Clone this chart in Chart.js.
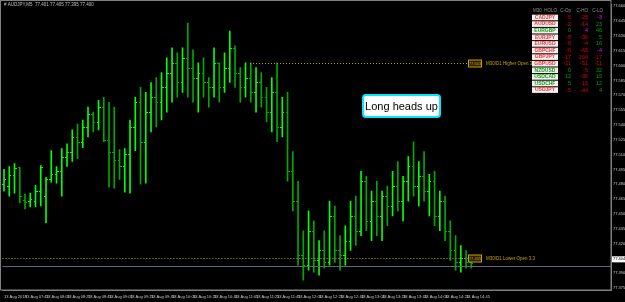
<!DOCTYPE html>
<html>
<head>
<meta charset="utf-8">
<script src="https://cdn.jsdelivr.net/npm/chart.js@4.4.1/dist/chart.umd.min.js"></script>
<style>
  html, body { margin: 0; padding: 0; background: #000; }
  #wrap { width: 625px; height: 302px; }
</style>
</head>
<body>
<div id="wrap"><canvas id="c"></canvas></div>
<script>
// M5 bars, 13 Aug 2018
const highs = [77.495,77.498,77.501,77.497,77.470,77.471,77.479,77.499,77.487,77.514,
  77.498,77.516,77.521,77.535,77.541,77.545,77.558,77.553,77.565,77.568,
  77.563,77.558,77.515,77.516,77.545,77.568,77.578,77.573,77.583,77.588,
  77.593,77.608,77.618,77.613,77.618,77.643,77.616,77.603,77.608,77.588,
  77.618,77.603,77.613,77.635,77.620,77.598,77.603,77.603,77.598,77.593,
  77.578,77.588,77.603,77.568,77.573,77.513,77.483,77.433,77.453,77.443,
  77.423,77.433,77.463,77.458,77.428,77.438,77.463,77.468,77.493,77.488,
  77.473,77.483,77.473,77.478,77.493,77.503,77.488,77.508,77.523,77.503,
  77.513,77.490,77.493,77.473,77.468,77.443,77.428,77.418,77.413,77.405];
const lows = [77.473,77.468,77.471,77.461,77.455,77.457,77.457,77.458,77.441,77.482,
  77.481,77.468,77.498,77.503,77.506,77.517,77.528,77.533,77.535,77.523,
  77.477,77.476,77.485,77.472,77.471,77.514,77.480,77.481,77.533,77.538,
  77.545,77.553,77.563,77.568,77.573,77.568,77.563,77.553,77.568,77.558,
  77.568,77.563,77.573,77.583,77.578,77.563,77.568,77.563,77.553,77.558,
  77.543,77.533,77.523,77.528,77.483,77.453,77.398,77.383,77.393,77.391,
  77.388,77.395,77.398,77.401,77.393,77.398,77.413,77.418,77.428,77.433,
  77.423,77.428,77.423,77.438,77.448,77.453,77.443,77.463,77.468,77.458,
  77.463,77.448,77.438,77.433,77.423,77.403,77.393,77.391,77.395,77.395];
const opens = [77.480,77.478,77.489,77.497,77.464,77.463,77.463,77.473,77.468,77.485,
  77.490,77.493,77.508,77.513,77.528,77.523,77.538,77.551,77.543,77.558,
  77.525,77.513,77.505,77.498,77.511,77.538,77.563,77.523,77.553,77.568,
  77.563,77.578,77.593,77.603,77.583,77.608,77.598,77.588,77.593,77.583,
  77.578,77.603,77.578,77.598,77.618,77.593,77.578,77.588,77.573,77.583,
  77.568,77.553,77.573,77.538,77.553,77.493,77.463,77.408,77.398,77.433,
  77.403,77.413,77.401,77.448,77.413,77.408,77.423,77.448,77.433,77.483,
  77.443,77.463,77.448,77.468,77.458,77.478,77.463,77.483,77.498,77.478,
  77.488,77.473,77.483,77.448,77.463,77.433,77.413,77.401,77.405,77.401];
const closes = [77.485,77.489,77.496,77.468,77.462,77.465,77.473,77.497,77.485,77.490,
  77.493,77.508,77.513,77.528,77.523,77.538,77.551,77.543,77.558,77.525,
  77.513,77.505,77.498,77.511,77.538,77.563,77.523,77.553,77.568,77.563,
  77.578,77.593,77.603,77.583,77.608,77.598,77.588,77.593,77.583,77.578,
  77.603,77.578,77.598,77.618,77.593,77.578,77.588,77.573,77.583,77.568,
  77.553,77.573,77.538,77.553,77.493,77.463,77.408,77.398,77.433,77.403,
  77.413,77.401,77.448,77.413,77.408,77.423,77.448,77.433,77.483,77.443,
  77.463,77.448,77.468,77.458,77.478,77.463,77.483,77.498,77.478,77.488,
  77.473,77.483,77.448,77.463,77.433,77.413,77.401,77.405,77.401,77.400];

// one time label every 4 bars
const timeLabels = ['13 Aug 2018','13 Aug 07:45','13 Aug 08:05','13 Aug 08:25','13 Aug 08:45',
  '13 Aug 09:05','13 Aug 09:25','13 Aug 09:45','13 Aug 10:05','13 Aug 10:25','13 Aug 10:45',
  '13 Aug 11:05','13 Aug 11:25','13 Aug 11:45','13 Aug 12:05','13 Aug 12:25','13 Aug 12:45',
  '13 Aug 13:05','13 Aug 13:25','13 Aug 13:45','13 Aug 14:05','13 Aug 14:25','13 Aug 14:45'];
const priceTicks = [77.660,77.645,77.630,77.615,77.600,77.585,77.570,77.555,77.540,77.525,
  77.510,77.495,77.480,77.465,77.450,77.435,77.420,77.405,77.390,77.375];

// levels
const higherOpen = 77.603;
const lowerOpen = 77.405;
const bidPrice = 77.404;
const bidLine = 77.397;

// M30 HOLO table
const pairs = ['CADJPY','AUDUSD','EURGBP','EURJPY','EURUSD','GBPCHF','GBPJPY','GBPUSD','NZDUSD','USDCAD','USDCHF','USDJPY'];
const cOp = [-5,-2,0,-8,-8,-6,-17,-11,0,12,5,-5];
const cHo = [-28,-14,4,-36,-4,-65,-104,-51,-5,-36,-15,-44];
const cLo = [-3,23,46,5,16,-4,-17,-11,32,15,12,4];

const UP = '#00ff00', DOWN = '#00a800', GOLD = '#c8a000';

const overlay = {
  id: 'overlay',
  afterDatasetsDraw(chart) {
    const {ctx, chartArea: a, scales: {x, y}} = chart;
    ctx.save();
    // open / close ticks
    ctx.lineWidth = 1;
    opens.forEach((o, i) => {
      const px = Math.round(x.getPixelForValue(i));
      ctx.strokeStyle = closes[i] >= o ? UP : DOWN;
      const yo = Math.round(y.getPixelForValue(o)) + 0.5;
      const yc = Math.round(y.getPixelForValue(closes[i])) + 0.5;
      ctx.beginPath();
      ctx.moveTo(px - 2, yo); ctx.lineTo(px, yo);
      ctx.moveTo(px, yc); ctx.lineTo(px + 2, yc);
      ctx.stroke();
    });

    // bid line
    const yb = Math.round(y.getPixelForValue(bidLine)) + 0.5;
    ctx.strokeStyle = '#5a6878';
    ctx.beginPath(); ctx.moveTo(a.left, yb); ctx.lineTo(a.right, yb); ctx.stroke();

    // dotted open levels
    const levels = [
      {p: higherOpen, from: 250, text: 'M30/D1 Higher Open 3.8'},
      {p: lowerOpen, from: a.left, text: 'M30/D1 Lower Open 3.3'}
    ];
    levels.forEach(l => {
      const ly = Math.round(y.getPixelForValue(l.p)) + 0.5;
      ctx.setLineDash([1, 2]);
      ctx.strokeStyle = GOLD;
      ctx.beginPath(); ctx.moveTo(l.from, ly); ctx.lineTo(468, ly); ctx.stroke();
      ctx.setLineDash([]);
      ctx.fillStyle = '#2a2000';
      ctx.fillRect(468.5, ly - 3.5, 13, 7);
      ctx.strokeRect(468.5, ly - 3.5, 13, 7);
      ctx.fillStyle = GOLD;
      ctx.textBaseline = 'middle';
      ctx.textAlign = 'center';
      ctx.font = '4px Arial';
      ctx.fillText(l.p.toFixed(3), 475, ly);
      ctx.textAlign = 'left';
      ctx.font = '4.5px Arial';
      ctx.fillText(l.text, 486, ly);
    });

    // title
    ctx.fillStyle = '#c0c0c0';
    ctx.font = '4.5px Arial';
    ctx.textAlign = 'left';
    ctx.textBaseline = 'middle';
    ctx.fillText('# AUDJPY,M5  77.401 77.405 77.395 77.400', 4, 5);

    // table
    ctx.fillStyle = '#909090';
    ctx.font = '4.5px Arial';
    ctx.fillText('M30  HOLO', 533, 11);
    ctx.textAlign = 'right';
    ctx.fillText('C-Op', 571, 11);
    ctx.fillText('C-HO', 588, 11);
    ctx.fillText('C-LO', 603, 11);
    const magenta = {'0,2': 1, '2,1': 1, '5,2': 1};
    pairs.forEach((p, r) => {
      const ry = 17.5 + r * 6.6;
      ctx.fillStyle = '#f4f0f0';
      ctx.fillRect(532, ry - 2.8, 26, 5.6);
      ctx.fillStyle = cOp[r] < 0 ? '#ff3030' : '#10a010';
      ctx.textAlign = 'center';
      ctx.font = 'bold 5px Arial';
      ctx.fillText(p, 545, ry);
      ctx.font = '5.5px Arial';
      ctx.textAlign = 'right';
      [cOp[r], cHo[r], cLo[r]].forEach((v, k) => {
        ctx.fillStyle = magenta[r + ',' + k] ? '#ff00ff' : (v < 0 ? '#e00000' : '#00a000');
        ctx.fillText(String(v), [571, 588, 602][k], ry);
      });
    });

    // heads-up box
    ctx.beginPath();
    ctx.roundRect(363, 95, 77, 22, 3);
    ctx.fillStyle = '#ffffff';
    ctx.fill();
    ctx.lineWidth = 2;
    ctx.strokeStyle = '#00e8ff';
    ctx.stroke();
    ctx.fillStyle = '#000';
    ctx.font = '11px Arial';
    ctx.textAlign = 'center';
    ctx.fillText('Long heads up', 401.5, 106.5);
    ctx.restore();
  },
  afterDraw(chart) {
    const {ctx, chartArea: a, scales: {y}} = chart;
    ctx.save();
    // frame
    ctx.strokeStyle = '#808080';
    ctx.lineWidth = 1;
    ctx.strokeRect(0.5, 0.5, a.right - 0.5, a.bottom - 0.5);
    // current price box
    const yb = y.getPixelForValue(bidPrice);
    ctx.fillStyle = '#ffffff';
    ctx.fillRect(a.right + 1, yb - 3, 13, 6);
    ctx.fillStyle = '#000';
    ctx.font = '4px Arial';
    ctx.textAlign = 'left';
    ctx.textBaseline = 'middle';
    ctx.fillText(bidPrice.toFixed(3), a.right + 2, yb);
    ctx.restore();
  }
};

const bars = highs.map((h, i) => ({x: i, y: [lows[i], h]}));

new Chart(document.getElementById('c'), {
  type: 'bar',
  data: {
    datasets: [{
      data: bars,
      backgroundColor: bars.map((b, i) => closes[i] >= opens[i] ? UP : DOWN),
      barThickness: 1,
      borderWidth: 0
    }]
  },
  options: {
    animation: false,
    responsive: true,
    maintainAspectRatio: false,
    layout: {padding: {left: 1, top: 1, right: 0, bottom: 0}},
    plugins: {legend: {display: false}, tooltip: {enabled: false}},
    scales: {
      x: {
        type: 'linear', min: -0.3, max: 115.6, offset: false,
        grid: {display: false, drawTicks: false},
        border: {color: '#808080'},
        afterBuildTicks: s => { s.ticks = timeLabels.map((t, k) => ({value: k * 4})); },
        ticks: {
          autoSkip: false, maxRotation: 0, align: 'start', padding: 4,
          color: '#c8c8c8', font: {size: 4, family: 'Arial'},
          callback: v => timeLabels[Math.round(v / 4)]
        },
        afterFit: s => { s.height = 12; }
      },
      y: {
        position: 'right', min: 77.373, max: 77.662,
        grid: {display: false, drawTicks: false},
        border: {color: '#808080'},
        afterBuildTicks: s => { s.ticks = priceTicks.map(v => ({value: v})); },
        ticks: {color: '#c8c8c8', font: {size: 4, family: 'Arial'}, padding: 2, callback: v => v.toFixed(3)},
        afterFit: s => { s.width = 14; }
      }
    }
  },
  plugins: [overlay]
});
</script>
</body>
</html>
